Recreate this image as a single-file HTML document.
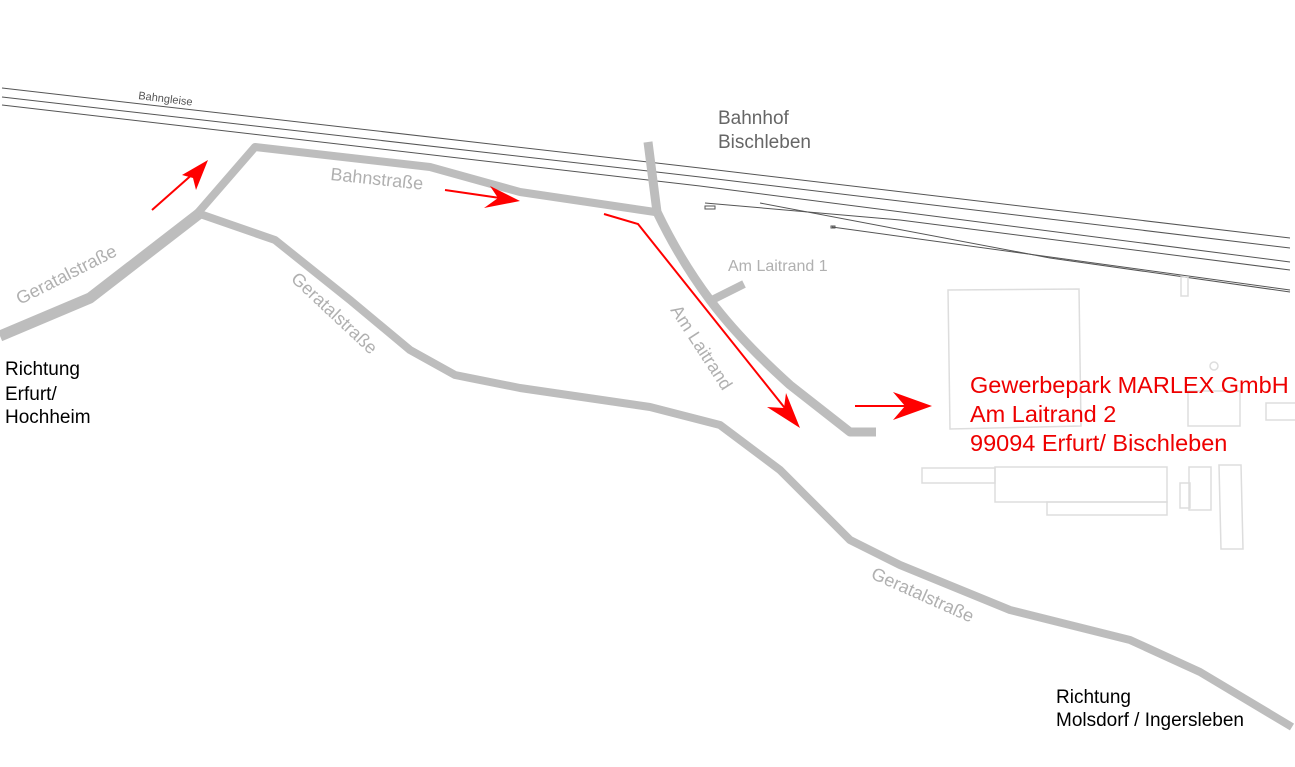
<!DOCTYPE html>
<html><head><meta charset="utf-8"><style>
html,body{margin:0;padding:0;background:#fff;width:1295px;height:767px;overflow:hidden}
svg{display:block}
text{font-family:"Liberation Sans",Arial,sans-serif}
</style></head><body>
<svg width="1295" height="767" viewBox="0 0 1295 767">
<g fill="none" stroke="#555" stroke-width="1">
<path d="M2,88 L700,168 L1290,238"/>
<path d="M2,97 L700,177 L1290,248"/>
<path d="M2,105 L700,186 L1290,262"/>
<path d="M705,203 L900,220 L1290,270"/>
<path d="M760,203 L1050,258 L1290,292"/>
<path d="M832,227 L1290,290"/>
<rect x="705" y="206" width="10" height="3"/>
<rect x="831" y="226" width="4" height="2"/>
</g>
<g fill="none" stroke="#ddd" stroke-width="1.5">
<path d="M948,290 L1079,289 L1081,426 L950,429 Z"/>
<rect x="1181" y="277" width="7" height="19"/>
<circle cx="1214" cy="366" r="4"/>
<rect x="1188" y="391" width="52" height="35"/>
<rect x="1266" y="403" width="30" height="17"/>
<rect x="922" y="468" width="73" height="15"/>
<rect x="995" y="467" width="172" height="35"/>
<rect x="1047" y="502" width="120" height="13"/>
<rect x="1180" y="483" width="10" height="25"/>
<rect x="1189" y="467" width="22" height="43"/>
<path d="M1219,465 L1241,465 L1243,549 L1221,549 Z"/>
</g>
<g fill="none" stroke="#bdbdbd" stroke-linejoin="round" stroke-linecap="butt">
<path d="M0,336 L90,298 L200,213" stroke-width="11"/>
<path d="M196,215 L255,147 L430,167 L520,192 L655,212" stroke-width="8"/>
<path d="M648,142 L657,212 Q680,260 710,300 Q740,340 790,385 L850,432 L876,432" stroke-width="9"/>
<path d="M712,300 L744,284" stroke-width="8"/>
<path d="M200,214 L275,240 L350,300 L410,350 L455,375 L520,388 L650,407 L720,425 L780,470 L850,540 L900,565 L1010,610 L1130,640 L1200,672 L1292,727" stroke-width="8"/>
</g>
<g fill="#b0b0b0" font-size="18">
<text transform="translate(20,305) rotate(-27)">Geratalstraße</text>
<text transform="translate(330,180) rotate(6)">Bahnstraße</text>
<text transform="translate(290,280) rotate(43)">Geratalstraße</text>
<text transform="translate(670,310) rotate(57)">Am Laitrand</text>
<text transform="translate(870,578) rotate(24)">Geratalstraße</text>
<text x="728" y="271" font-size="16">Am Laitrand 1</text>
</g>
<text x="138" y="99" font-size="11" fill="#555" transform="rotate(7 138 99)">Bahngleise</text>
<text x="718" y="124" font-size="19" fill="#666">Bahnhof</text>
<text x="718" y="148" font-size="19" fill="#666">Bischleben</text>
<g font-size="19" fill="#000">
<text x="5" y="375">Richtung</text><text x="5" y="400">Erfurt/</text><text x="5" y="423">Hochheim</text>
<text x="1056" y="703">Richtung</text><text x="1056" y="726">Molsdorf / Ingersleben</text>
</g>
<g font-size="23.5" fill="#e00">
<text x="970" y="393">Gewerbepark MARLEX GmbH</text>
<text x="970" y="422">Am Laitrand 2</text>
<text x="970" y="451">99094 Erfurt/ Bischleben</text>
</g>
<g stroke="#f00" stroke-width="2" fill="none">
<path d="M152,210 L195,172"/>
<path d="M445,190 L500,198"/>
<path d="M604,214 L638,224 L788,412"/>
<path d="M855,406 L905,406"/>
</g>
<g fill="#f00">
<path d="M208,160 L182,175 L193,178 L196,190 Z"/>
<path d="M520,201 L490,186 L498,198 L484,208 Z"/>
<path d="M800,428 L767,407 L784,408 L786,393 Z"/>
<path d="M932,406 L893,392 L905,406 L893,420 Z"/>
</g>
</svg>
</body></html>
